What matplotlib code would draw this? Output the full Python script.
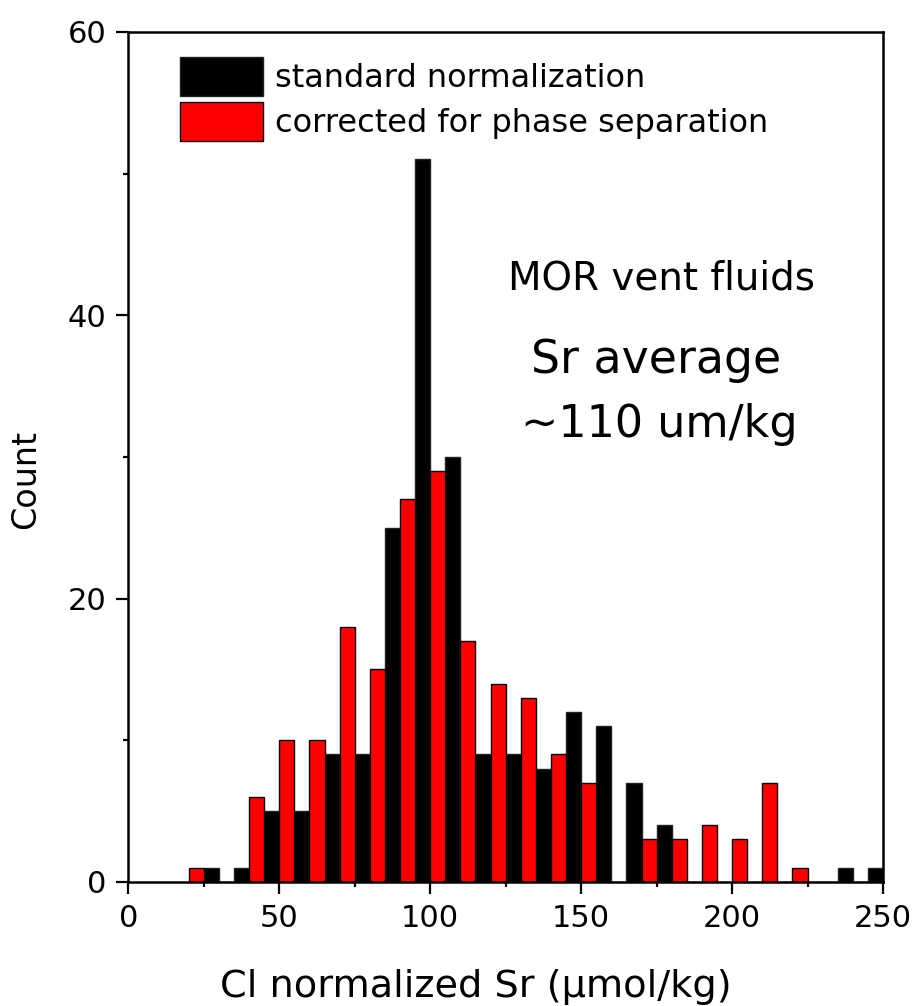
import numpy as np
import matplotlib.pyplot as plt
from matplotlib.ticker import MultipleLocator

# bin centres (bin width 10) and counts per bin
bins = [25, 35, 45, 55, 65, 75, 85, 95, 105, 115, 125, 135,
        145, 155, 165, 175, 185, 195, 205, 215, 225, 235, 245]
standard = [1, 1, 5, 5, 9, 9, 25, 51, 30, 9, 9, 8,
            12, 11, 7, 4, 0, 0, 0, 0, 0, 1, 1]
corrected = [1, 0, 6, 10, 10, 18, 15, 27, 29, 17, 14, 13,
             9, 7, 0, 3, 3, 4, 3, 7, 1, 0, 0]

fig = plt.figure(figsize=(9.14, 10.06), dpi=100)
ax = fig.add_axes([0.1404, 0.1233, 0.8257, 0.845])

x = np.array(bins)
ax.bar(x + 2.5, standard, width=5, color="black", edgecolor="#222222",
       linewidth=1, label="standard normalization")
ax.bar(x - 2.5, corrected, width=5, color="#ff0000", edgecolor="black",
       linewidth=1, label="corrected for phase separation")

ax.set_xlim(0, 250)
ax.set_ylim(0, 60)
ax.xaxis.set_major_locator(MultipleLocator(50))
ax.xaxis.set_minor_locator(MultipleLocator(25))
ax.yaxis.set_major_locator(MultipleLocator(20))
ax.yaxis.set_minor_locator(MultipleLocator(10))
ax.tick_params(which="both", direction="out", width=1.6, labelsize=22,
               top=False, right=False)
ax.tick_params(which="major", length=8.6, pad=7)
ax.tick_params(which="minor", length=3.6)
for s in ax.spines.values():
    s.set_linewidth(1.8)

ax.set_xlabel("Cl normalized Sr (\u03bcmol/kg)", fontsize=27.5)
ax.xaxis.set_label_coords(0.46, -0.102)
ax.set_ylabel("Count", fontsize=24)
ax.yaxis.set_label_coords(-0.114, 0.473)

ax.text(176.5, 42.6, "MOR vent fluids", fontsize=28, ha="center", va="center")
ax.text(175, 36.8, "Sr average", fontsize=33, ha="center", va="center")
ax.text(176, 32.3, "~110 um/kg", fontsize=32, ha="center", va="center")

ax.legend(loc="upper left", bbox_to_anchor=(0.0515, 0.985), frameon=False,
          fontsize=23, handlelength=2.6, handleheight=1.5,
          handletextpad=0.37, labelspacing=0.18, borderaxespad=0)

fig.savefig("out.png", dpi=100)
